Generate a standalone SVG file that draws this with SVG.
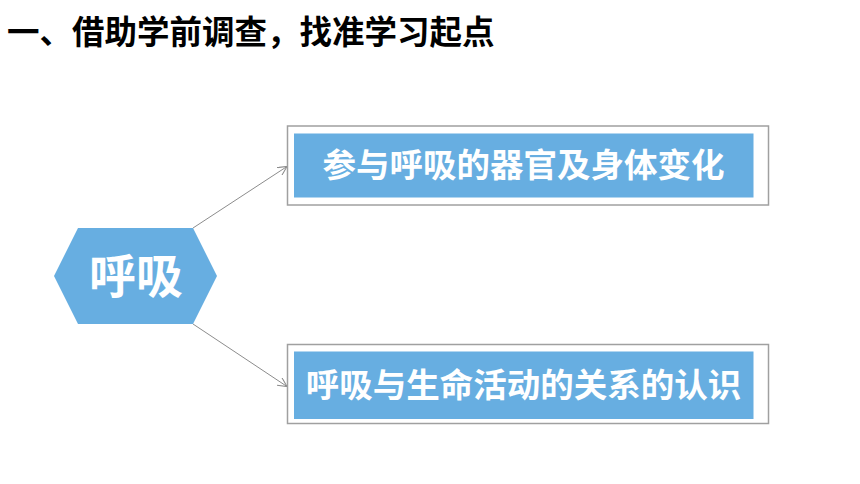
<svg xmlns="http://www.w3.org/2000/svg" width="860" height="484" viewBox="0 0 860 484">
<style>
.title{font-family:"Liberation Sans","Noto Sans CJK SC",sans-serif;font-weight:bold;font-size:32.5px;fill:#000}
.lbl{font-family:"Liberation Sans","Noto Sans CJK SC",sans-serif;font-weight:bold;fill:#fff;text-anchor:middle;dominant-baseline:central}
.outer{fill:#fff;stroke:#a0a0a0;stroke-width:1.5}
.inner{fill:#67aee1}
.conn{stroke:#8c8c8c;stroke-width:1;fill:none}
</style>
<defs>
<marker id="arr" viewBox="0 0 10 10" refX="10" refY="5" markerWidth="9" markerHeight="9" markerUnits="userSpaceOnUse" orient="auto">
<path d="M0,0 L10,5 L0,10" fill="none" stroke="#8c8c8c" stroke-width="1.2"/>
</marker>
</defs>
<rect width="860" height="484" fill="#fff"/>
<text class="title" x="7" y="44">一、借助学前调查，找准学习起点</text>
<g id="connectors">
<line class="conn" x1="193" y1="228" x2="287" y2="166.5" marker-end="url(#arr)"/>
<line class="conn" x1="193" y1="324" x2="287" y2="386.5" marker-end="url(#arr)"/>
</g>
<g id="node-huxi">
<polygon class="inner" points="54,276 78,228 193,228 217,276 193,324 78,324"/>
<text class="lbl" x="136" y="276" font-size="47">呼吸</text>
</g>
<g id="node-top">
<rect class="outer" x="287.5" y="126" width="481" height="79"/>
<rect class="inner" x="294" y="133.5" width="459.5" height="64"/>
<text class="lbl" x="523.5" y="165.5" font-size="33.5">参与呼吸的器官及身体变化</text>
</g>
<g id="node-bottom">
<rect class="outer" x="287.5" y="344.5" width="481" height="79"/>
<rect class="inner" x="294" y="351.5" width="459.5" height="67.5"/>
<text class="lbl" x="523.5" y="385.5" font-size="33.5">呼吸与生命活动的关系的认识</text>
</g>
</svg>
